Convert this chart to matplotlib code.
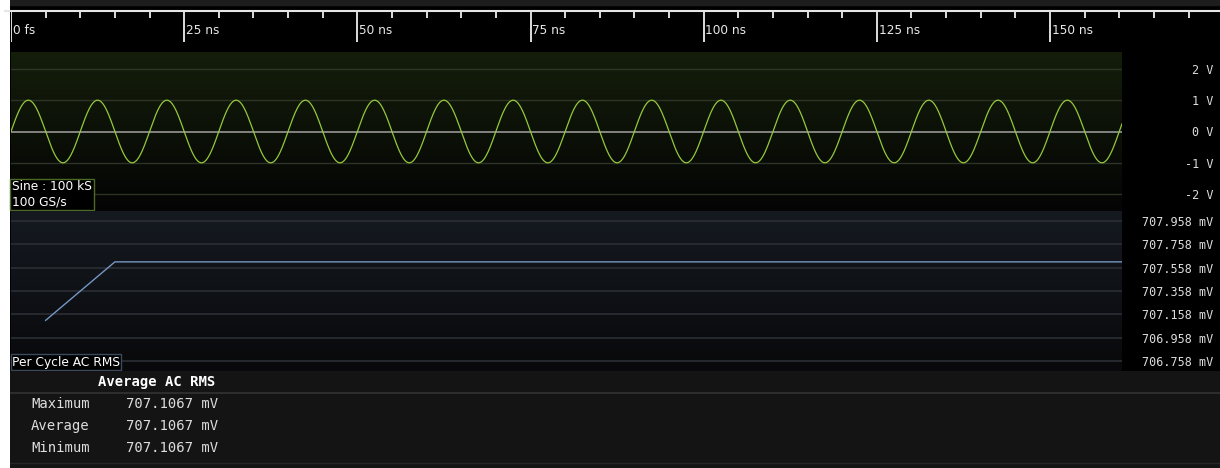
import numpy as np
import matplotlib
matplotlib.use("Agg")
import matplotlib.pyplot as plt
from matplotlib.colors import LinearSegmentedColormap

W, H = 1220, 468

# time axis (ns)
major_ticks = [0, 25, 50, 75, 100, 125, 150]
major_labels = ["0 fs", "25 ns", "50 ns", "75 ns", "100 ns", "125 ns", "150 ns"]
minor_ticks = [5, 10, 15, 20, 30, 35, 40, 45, 55, 60, 65, 70, 80, 85, 90, 95,
               105, 110, 115, 120, 130, 135, 140, 145, 155, 160, 165, 170]

# sine channel
sine_amplitude = 1.0      # V
sine_period = 10.0        # ns
volt_ticks = [2, 1, 0, -1, -2]
volt_labels = ["2 V", "1 V", "0 V", "-1 V", "-2 V"]

# per cycle AC RMS (cycle centre time, value in mV)
cycle_t = [5, 15, 25, 35, 45, 55, 65, 75, 85, 95, 105, 115, 125, 135, 145, 155, 165]
cycle_rms = [707.107, 707.607, 707.607, 707.607, 707.607, 707.607, 707.607, 707.607,
             707.607, 707.607, 707.607, 707.607, 707.607, 707.607, 707.607, 707.607, 707.607]
rms_ticks = [707.958, 707.758, 707.558, 707.358, 707.158, 706.958, 706.758]

# statistics table
stat_names = ["Maximum", "Average", "Minimum"]
stat_values = ["707.1067 mV", "707.1067 mV", "707.1067 mV"]

PX_PER_NS = (1050 - 11) / 150.0


def rect(x0, y0, x1, y1):
    return [x0 / W, 1 - y1 / H, (x1 - x0) / W, (y1 - y0) / H]


fig = plt.figure(figsize=(W / 100, H / 100), dpi=100, facecolor="white")

# black backdrop right of the white margin
bg = fig.add_axes(rect(10, 0, W, H))
bg.set_xlim(0, W - 10)
bg.set_ylim(H, 0)
bg.axis("off")
bg.add_patch(plt.Rectangle((0, 0), W - 10, H, color="black", zorder=0))
bg.add_patch(plt.Rectangle((0, 0), W - 10, 5, color="#1d1d1d", zorder=1))

# ---- time ruler ----
ruler = fig.add_axes(rect(11, 5, W, 52))
ruler.set_xlim(0, (W - 11) / PX_PER_NS)
ruler.set_ylim(52, 5)
ruler.axis("off")
ruler.hlines(11, -1, 200, color="#e6e6e6", lw=1.5, clip_on=False)
ruler.vlines(major_ticks, 11, 42, color="#dcdcdc", lw=1.4)
ruler.vlines(minor_ticks, 11, 18, color="#dcdcdc", lw=1.4)
for t, lab in zip(major_ticks, major_labels):
    ruler.text(t + 0.25, 30, lab, color="#e8e8e8", fontsize=8.7,
               ha="left", va="center", family="DejaVu Sans")

t_end = (1122 - 11) / PX_PER_NS


def gradient(ax, top, bottom, ylim):
    cmap = LinearSegmentedColormap.from_list("g", [bottom, top])
    grad = np.linspace(0, 1, 256).reshape(-1, 1)
    ax.imshow(grad, cmap=cmap, aspect="auto", origin="lower",
              extent=[0, t_end, ylim[0], ylim[1]], zorder=0)


def right_labels(ax, ticks, labels):
    ax.yaxis.tick_right()
    ax.set_yticks(ticks)
    ax.set_yticklabels(labels)
    ax.tick_params(axis="y", length=0, pad=66, labelsize=8.5, colors="#dddddd")
    for lab in ax.get_yticklabels():
        lab.set_horizontalalignment("right")
        lab.set_family("DejaVu Sans Mono")
    ax.set_xticks([])
    for s in ax.spines.values():
        s.set_visible(False)


# ---- sine panel ----
ax1 = fig.add_axes(rect(11, 52, 1122, 211))
v_lim = (131.5 - 211) / 31.3, (131.5 - 52) / 31.3
ax1.set_xlim(0, t_end)
ax1.set_ylim(*v_lim)
gradient(ax1, "#141e0b", "#040404", v_lim)
for v in volt_ticks:
    if v == 0:
        ax1.axhline(v, color="#8c8c8c", lw=1.3, zorder=2)
    else:
        ax1.axhline(v, color="#2d3325", lw=1.0, zorder=1)
t = np.linspace(0, t_end, 4000)
ax1.plot(t, sine_amplitude * np.sin(2 * np.pi * t / sine_period),
         color="#94c83a", lw=0.9, zorder=3)
right_labels(ax1, volt_ticks, volt_labels)
ax1.text(0.15, v_lim[0] + 0.08, "Sine : 100 kS\n100 GS/s", color="white",
         fontsize=8.8, ha="left", va="bottom", linespacing=1.2, zorder=5,
         bbox=dict(boxstyle="square,pad=0.15", facecolor="black",
                   edgecolor="#4c6a26", lw=1))

# ---- per cycle RMS panel ----
ax2 = fig.add_axes(rect(11, 211, 1122, 371))
r_lim = 707.358 - 0.684, 707.358 + 0.684
ax2.set_xlim(0, t_end)
ax2.set_ylim(*r_lim)
gradient(ax2, "#151a21", "#09090b", r_lim)
for r in rms_ticks:
    ax2.axhline(r, color="#2b2f35", lw=1.2, zorder=1)
ax2.plot(cycle_t, cycle_rms, color="#7597c4", lw=1.0, zorder=3)
right_labels(ax2, rms_ticks, ["%.3f mV" % r for r in rms_ticks])
ax2.text(0.15, r_lim[0] + 0.02, "Per Cycle AC RMS", color="white",
         fontsize=8.8, ha="left", va="bottom", zorder=5,
         bbox=dict(boxstyle="square,pad=0.1", facecolor="black",
                   edgecolor="#3a4a5c", lw=1))

# ---- statistics table ----
tab = fig.add_axes(rect(10, 371, W, H))
tab.set_facecolor("#141414")
tab.set_xlim(10, W)
tab.set_ylim(H, 371)
tab.set_xticks([])
tab.set_yticks([])
for s in tab.spines.values():
    s.set_visible(False)
tab.axhline(393, color="#333333", lw=1.2)
tab.axhline(462.5, color="#262626", lw=1.0)
tab.text(157, 382, "Average AC RMS", color="white", fontsize=10,
         fontweight="bold", family="DejaVu Sans Mono", ha="center", va="center")
for i, (name, val) in enumerate(zip(stat_names, stat_values)):
    y = 404 + 22 * i
    tab.text(31, y, name, color="#dddddd", fontsize=10,
             family="DejaVu Sans Mono", ha="left", va="center")
    tab.text(126, y, val, color="#dddddd", fontsize=10,
             family="DejaVu Sans Mono", ha="left", va="center")

fig.savefig("out.png", dpi=100, facecolor="white")
